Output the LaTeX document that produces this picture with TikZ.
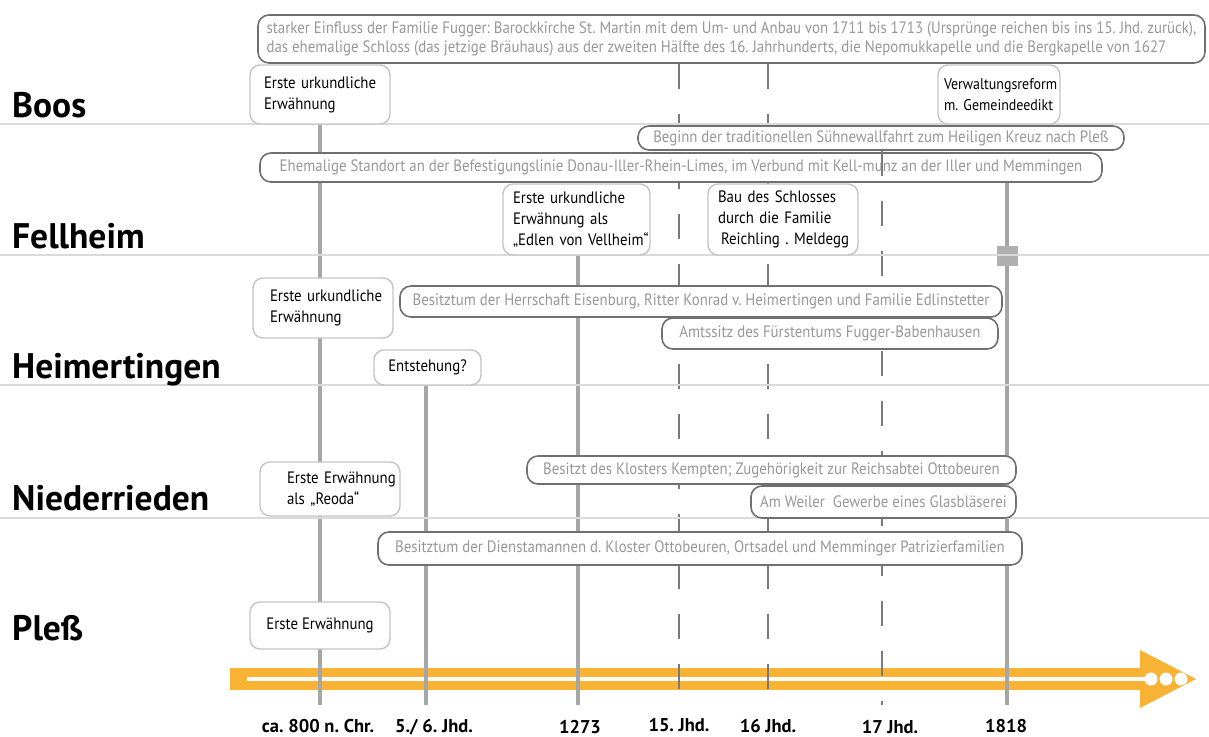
\documentclass[tikz,border=0pt]{standalone}
\usepackage{fontspec}
\setmainfont{PT Sans}
\newfontfamily\condfont[FakeStretch=0.9]{PT Sans}
\frenchspacing
\definecolor{orng}{RGB}{248,178,52}
\definecolor{sepc}{RGB}{218,218,218}
\definecolor{vsolid}{RGB}{166,166,166}
\definecolor{vdash}{RGB}{122,122,122}
\definecolor{gbord}{RGB}{112,112,112}
\definecolor{gtext}{RGB}{152,152,152}
\definecolor{bbord}{RGB}{196,196,196}
\definecolor{markc}{RGB}{176,176,176}
\newcommand{\ol}[1]{\mbox{#1}}
\pgfdeclarelayer{arrowlayer}
\pgfdeclarelayer{linelayer}
\pgfdeclarelayer{seplayer}
\pgfsetlayers{arrowlayer,linelayer,seplayer,main}
\tikzset{
  blackbox/.style={draw=bbord, line width=1.4pt, rounded corners=10pt, fill=white, inner ysep=0pt,
    font=\condfont\fontsize{16.5}{21}\selectfont, align=left, text=black},
  graybox/.style={draw=gbord, line width=1.6pt, rounded corners=11pt, fill=white, inner sep=0pt,
    font=\condfont\fontsize{16.5}{18.5}\selectfont, text=gtext, align=center},
  rowlabel/.style={anchor=base west, inner sep=0pt, font=\bfseries\fontsize{35.5}{35.5}\selectfont},
  axislabel/.style={anchor=base, inner sep=0pt, font=\bfseries\fontsize{18.5}{18.5}\selectfont},
  sline/.style={draw=vsolid, line width=3.5pt},
  thickline/.style={draw=vsolid, line width=4.5pt},
  dline/.style={draw=vdash, line width=2pt, dash pattern=on 25pt off 25pt},
  sepline/.style={draw=sepc, line width=2pt},
}
\begin{document}
\begin{tikzpicture}[x=1pt,y=-1pt]
\useasboundingbox (0,0) rectangle (1209,736);
% bottom coordinates of the time lines
\coordinate (b1) at (320,705);
\coordinate (b2) at (426,705);
\coordinate (b3) at (578,705);
\coordinate (b4) at (679,705);
\coordinate (b5) at (768,705);
\coordinate (b6) at (882,705);
\coordinate (b7) at (1007,705);
% row labels
\node[rowlabel] (lboos) at (12,117) {Boos};
\node[rowlabel] (lfell) at (12,248) {Fellheim};
\node[rowlabel] (lheim) at (12,378) {Heimertingen};
\node[rowlabel] (lnied) at (12,510) {Niederrieden};
\node[rowlabel] (lpless) at (12,640) {Pleß};
% axis labels
\node[axislabel] (a1) at (318,732) {ca. 800 n. Chr.};
\node[axislabel] (a2) at (434,732) {5./ 6. Jhd.};
\node[axislabel] (a3) at (580,733) {1273};
\node[axislabel] (a4) at (679,731) {15. Jhd.};
\node[axislabel] (a5) at (768,732) {16 Jhd.};
\node[axislabel] (a6) at (890,733) {17 Jhd.};
\node[axislabel] (a7) at (1006,732) {1818};
% Boos
\node[graybox, align=left, minimum width=947pt, minimum height=48pt] (topbox) at (731.5,39)
  {starker Einfluss der Familie Fugger: Barockkirche St. Martin mit dem Um- und Anbau von 1711 bis 1713 (Ursprünge reichen bis ins 15. Jhd. zurück),\\
   das ehemalige Schloss (das jetzige Bräuhaus) aus der zweiten Hälfte des 16. Jahrhunderts, die Nepomukkapelle und die Bergkapelle von 1627};
\node[blackbox, text width=112pt, inner xsep=14pt, minimum height=59pt] (boosA) at (320,94.5) {\ol{Erste urkundliche}\\\ol{Erwähnung}};
\node[blackbox, font=\condfont\fontsize{15.5}{21}\selectfont, text width=110pt, inner xsep=6pt, minimum height=59pt] (boosB) at (999,94.5) {\ol{Verwaltungsreform}\\\ol{m. Gemeindeedikt}};
% Fellheim
\node[graybox, minimum width=486pt, minimum height=24pt] (beginn) at (881,138) {Beginn der traditionellen Sühnewallfahrt zum Heiligen Kreuz nach Pleß};
\node[graybox, minimum width=842pt, minimum height=29pt] (ehem) at (681,167.5) {Ehemalige Standort an der Befestigungslinie Donau-Iller-Rhein-Limes, im Verbund mit Kell-munz an der Iller und Memmingen};
\node[blackbox, text width=127pt, inner xsep=10pt, minimum height=71pt] (fellA) at (576.5,219.5) {\ol{Erste urkundliche}\\\ol{Erwähnung als}\\\ol{„Edlen von Vellheim“}};
\node[blackbox, text width=130pt, inner xsep=10pt, minimum height=71pt] (fellB) at (783,219.5) {\ol{Bau des Schlosses}\\\ol{durch die Familie}\\\ol{\hspace*{3pt}Reichling . Meldegg}};
% Heimertingen
\node[blackbox, text width=106pt, inner xsep=17pt, minimum height=60pt] (heimA) at (323,308) {\ol{Erste urkundliche}\\\ol{Erwähnung}};
\node[graybox, minimum width=602pt, minimum height=31pt] (eisen) at (701,301.5) {Besitztum der Herrschaft Eisenburg, Ritter Konrad v. Heimertingen und Familie Edlinstetter};
\node[graybox, minimum width=336pt, minimum height=31pt] (amt) at (830,333.5) {Amtssitz des Fürstentums Fugger-Babenhausen};
\node[blackbox, align=center, inner xsep=0pt, minimum width=107pt, minimum height=35pt] (entst) at (427.5,367.5) {Entstehung?};
% Niederrieden
\node[graybox, minimum width=489pt, minimum height=28pt] (kempt) at (771.5,470) {Besitzt des Klosters Kempten; Zugehörigkeit zur Reichsabtei Ottobeuren};
\node[graybox, minimum width=265pt, minimum height=32pt] (glas) at (883.5,502) {Am Weiler\ \ Gewerbe eines Glasbläserei};
\node[blackbox, text width=86pt, inner xsep=27pt, minimum height=54pt] (niedA) at (330,489) {\ol{Erste Erwähnung}\\\ol{als „Reoda“}};
% Pless
\node[graybox, minimum width=644pt, minimum height=33pt] (dienst) at (700,548.5) {Besitztum der Dienstamannen d. Kloster Ottobeuren, Ortsadel und Memminger Patrizierfamilien};
\node[blackbox, align=center, inner xsep=0pt, minimum width=140pt, minimum height=47pt] (plessA) at (320,625.5) {Erste Erwähnung};
% orange time arrow
\begin{pgfonlayer}{arrowlayer}
\fill[orng] (230,668) rectangle (1143,690);
\fill[orng] (1140,650) -- (1196,679) -- (1140,708) -- cycle;
\fill[white] (247,677) rectangle (1150,681);
\fill[white] (1151,679) circle (6.5);
\fill[white] (1166,679) circle (6.5);
\fill[white] (1181,679) circle (6.5);
\end{pgfonlayer}
% time lines
\begin{pgfonlayer}{linelayer}
\draw[sline] (boosA.south) -- (b1);
\draw[sline] (entst.south -| b2) -- (b2);
\draw[sline] (fellA.south -| b3) -- (b3);
\draw[dline] (topbox.south -| b4) -- (b4);
\draw[dline] (topbox.south -| b5) -- (b5);
\draw[dline] (beginn.south -| b6) -- (b6);
\draw[thickline] (ehem.south -| b7) -- (b7);
\fill[markc] (997,246) rectangle (1018,266);
\end{pgfonlayer}
% separators
\begin{pgfonlayer}{seplayer}
\draw[sepline] (0,124) -- (1209,124);
\draw[sepline] (0,255) -- (1209,255);
\draw[sepline] (0,385) -- (1209,385);
\draw[sepline] (0,518) -- (1209,518);
\end{pgfonlayer}
% line that shows through the Limes box
\draw[dline] (beginn.south -| b6) -- (ehem.south -| b6);
\end{tikzpicture}
\end{document}
